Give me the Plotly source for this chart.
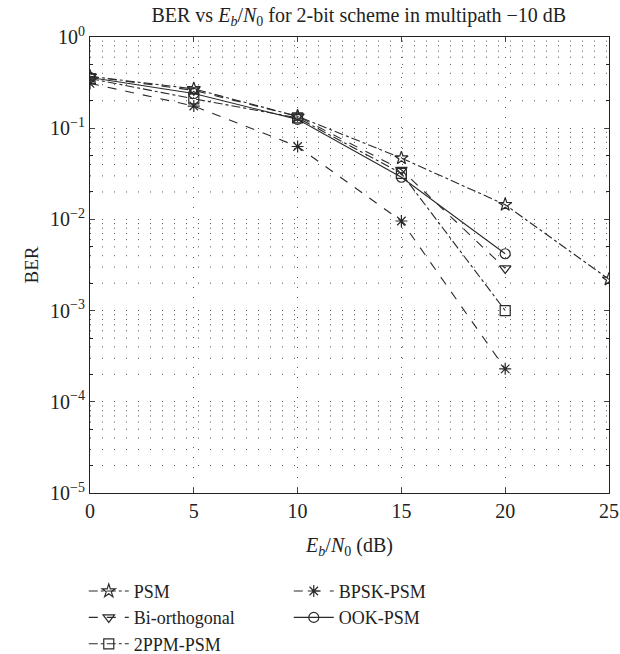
import plotly.graph_objects as go

ebn0 = [0, 5, 10, 15, 20, 25]
psm = [0.37, 0.27, 0.135, 0.047, 0.0145, 0.0022]
biorth = [0.37, 0.26, 0.135, 0.035, 0.0029]
ppm2 = [0.35, 0.21, 0.13, 0.032, 0.001]
bpsk = [0.31, 0.175, 0.063, 0.0096, 0.00023]
ook = [0.36, 0.24, 0.125, 0.029, 0.0042]

ytick_vals = [1e-5, 1e-4, 1e-3, 1e-2, 1e-1, 1]
ytick_text = ["10<sup>−5</sup>", "10<sup>−4</sup>", "10<sup>−3</sup>", "10<sup>−2</sup>", "10<sup>−1</sup>", "10<sup>0</sup>"]
xtick_vals = [0, 5, 10, 15, 20, 25]

col = "#2a2a2a"
series = [
    ("PSM", ebn0, psm, "dashdot", "star-open"),
    ("BPSK-PSM", ebn0[:5], bpsk, "dash", "asterisk-open"),
    ("Bi-orthogonal", ebn0[:5], biorth, "dash", "triangle-down-open"),
    ("OOK-PSM", ebn0[:5], ook, "solid", "circle-open"),
    ("2PPM-PSM", ebn0[:5], ppm2, "dashdot", "square-open"),
]

fig = go.Figure()

# minor grid lines (dotted) along log decades
for k in range(-5, 0):
    for m in range(2, 10):
        v = m * 10 ** k
        fig.add_shape(type="line", xref="paper", yref="y", x0=0, x1=1, y0=v, y1=v,
                      line=dict(color="#555", width=1, dash="1px,11px"), layer="below")

for name, xs, ys, dash, sym in series:
    fig.add_trace(go.Scatter(
        x=xs, y=ys, name=name, mode="lines+markers",
        line=dict(color=col, width=1.1, dash=dash),
        marker=dict(symbol=sym, size=10, color=col, line=dict(width=1.2, color=col)),
    ))

font = "Liberation Serif, Times New Roman, serif"
fig.update_layout(
    width=620, height=654,
    margin=dict(l=90, r=11, t=37, b=161, autoexpand=False),
    paper_bgcolor="white", plot_bgcolor="white",
    font=dict(family=font, size=18, color="#222"),
    title=dict(text="BER vs <i>E<sub>b</sub></i>/<i>N</i><sub>0</sub> for 2-bit scheme in multipath −10 dB",
               x=0.518, xref="paper", xanchor="center", y=0.977, yanchor="middle", font=dict(size=20)),
    showlegend=True,
    legend=dict(orientation="h", x=-0.012, xanchor="left", y=-0.175, yanchor="top",
                entrywidth=150, entrywidthmode="pixels", font=dict(size=18),
                tracegroupgap=0, itemwidth=40),
)
fig.update_xaxes(
    range=[0, 25], tickvals=xtick_vals, ticks="inside", ticklen=5, mirror="ticks",
    showline=True, linecolor="#222", linewidth=1.2,
    showgrid=True, gridcolor="#555", griddash="1px,9px", gridwidth=1,
    zeroline=False, title=dict(text="<i>E<sub>b</sub></i>/<i>N</i><sub>0</sub> (dB)", standoff=16, font=dict(size=20)),
    tickfont=dict(size=20),
)
fig.update_yaxes(
    type="log", range=[-5, 0], tickvals=ytick_vals, ticktext=ytick_text,
    ticks="inside", ticklen=5, mirror="ticks",
    showline=True, linecolor="#222", linewidth=1.2,
    showgrid=True, gridcolor="#555", griddash="1px,11px", gridwidth=1,
    minor=dict(ticks="inside", ticklen=3, tickcolor="#222", showgrid=False),
    zeroline=False, title=dict(text="BER", standoff=6, font=dict(size=19)),
    tickfont=dict(size=20),
)
fig.write_html("out.html", config={"displayModeBar": False},
               post_script="document.body.style.margin='0';document.body.style.overflow='hidden';")
